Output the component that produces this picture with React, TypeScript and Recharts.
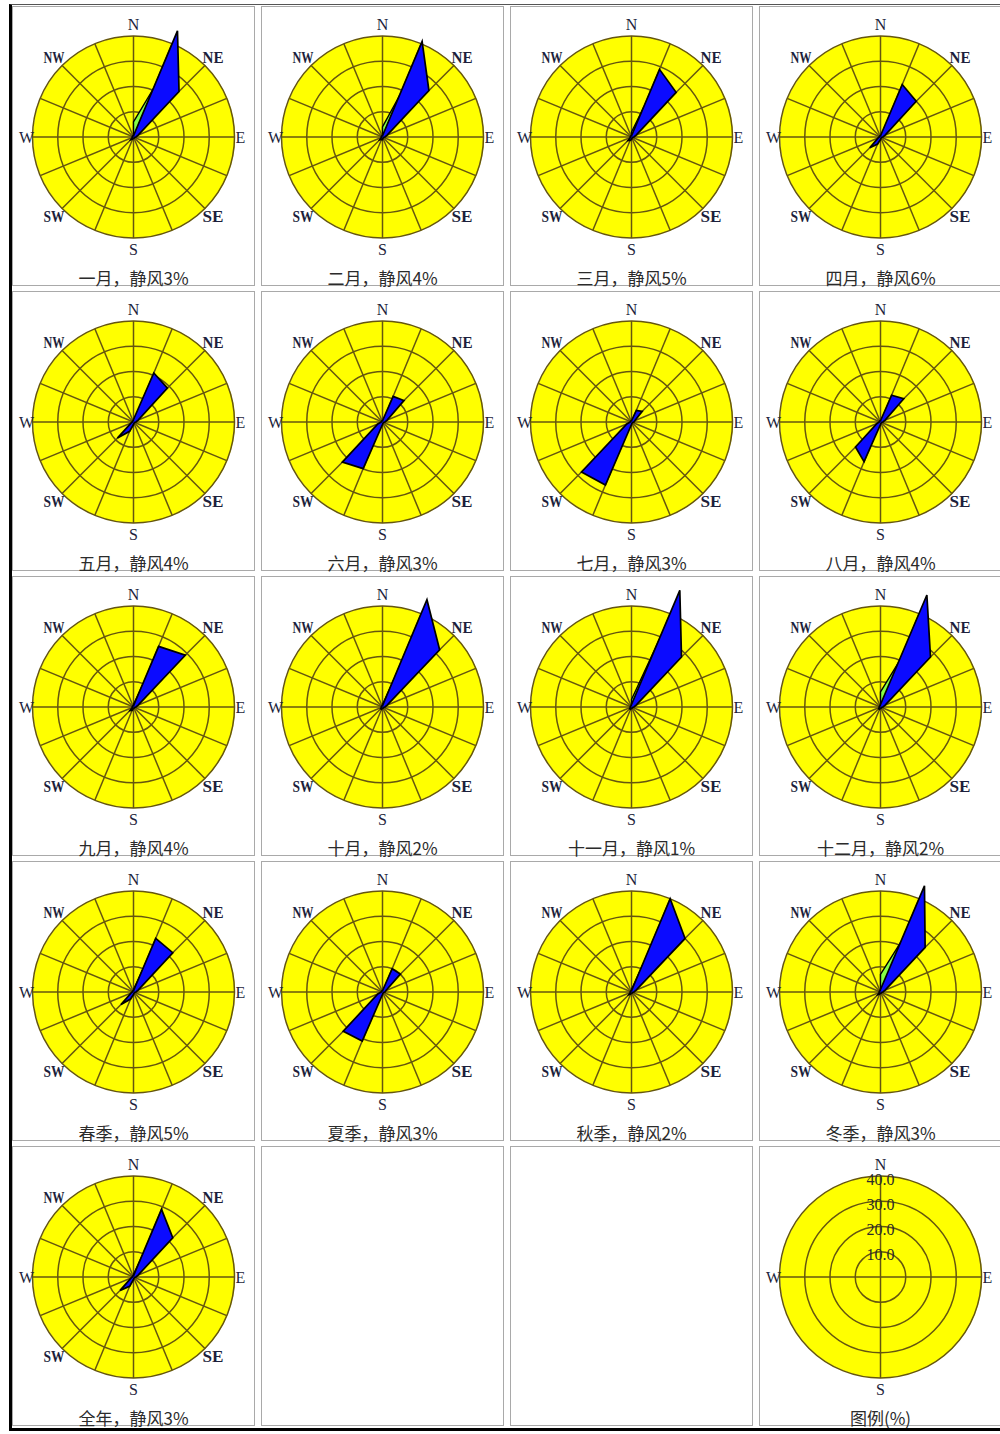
import { PolarAngleAxis, PolarGrid, PolarRadiusAxis, Radar, RadarChart } from 'recharts';

// 16 compass points, clockwise from north
const DIRECTIONS = ['N', 'NNE', 'NE', 'ENE', 'E', 'ESE', 'SE', 'SSE', 'S', 'SSW', 'SW', 'WSW', 'W', 'WNW', 'NW', 'NNW'];
const MAIN_POINTS = ['N', 'NE', 'E', 'SE', 'S', 'SW', 'W', 'NW'];
const LEGEND_DIRS = ['N', 'E', 'S', 'W'];
const RING_TICKS = [0, 10, 20, 30, 40];

const PERIODS = [
  '一月', '二月', '三月', '四月', '五月', '六月', '七月', '八月',
  '九月', '十月', '十一月', '十二月', '春季', '夏季', '秋季', '冬季', '全年',
];
const CALM = [3, 4, 5, 6, 4, 3, 3, 4, 4, 2, 1, 2, 5, 3, 2, 3, 3];

// wind direction frequency (%), main rose
const FREQ_JAN = [0.5, 45.5, 25.5, 2, 1, 0.5, 0.5, 0.5, 0.5, 1, 1.5, 0.5, 0.5, 0.5, 0.5, 0.5];
const FREQ_FEB = [0.5, 41, 26, 2, 1, 0.5, 0.5, 0.5, 1, 1, 1.5, 0.5, 0.5, 0.5, 0.5, 0.5];
const FREQ_MAR = [0.5, 29, 25, 2, 1, 0.5, 0.5, 0.5, 1, 1.5, 2, 0.5, 0.5, 0.5, 0.5, 0.5];
const FREQ_APR = [0.5, 22.5, 20, 2, 1, 0.5, 0.5, 0.5, 1, 3, 6, 1, 0.5, 0.5, 0.5, 0.5];
const FREQ_MAY = [1, 21, 19, 2, 1, 0.5, 0.5, 0.5, 1, 4, 9, 1, 0.5, 0.5, 0.5, 0.5];
const FREQ_JUN = [0.5, 11, 12, 2, 1, 0.5, 0.5, 0.5, 1, 20, 22.5, 2, 0.5, 0.5, 0.5, 0.5];
const FREQ_JUL = [0.5, 5, 6, 1.5, 1, 0.5, 0.5, 0.5, 1, 27, 28, 2, 0.5, 0.5, 0.5, 0.5];
const FREQ_AUG = [0.5, 11.5, 13, 2, 1, 0.5, 0.5, 0.5, 1, 17, 14, 1.5, 0.5, 0.5, 0.5, 0.5];
const FREQ_SEP = [0.5, 26, 29, 2, 1, 0.5, 0.5, 0.5, 0.5, 1.5, 2, 0.5, 0.5, 0.5, 0.5, 0.5];
const FREQ_OCT = [0.5, 46, 32, 2, 1, 0.5, 0.5, 0.5, 0.5, 1, 1, 0.5, 0.5, 0.5, 0.5, 0.5];
const FREQ_NOV = [1, 50, 28, 2, 1, 0.5, 0.5, 0.5, 0.5, 1, 1, 0.5, 0.5, 0.5, 0.5, 0.5];
const FREQ_DEC = [1, 48, 28, 2, 1, 0.5, 0.5, 0.5, 0.5, 1, 1, 0.5, 0.5, 0.5, 0.5, 0.5];
const FREQ_SPRING = [0.5, 23, 22, 2, 1, 0.5, 0.5, 0.5, 1, 3, 7, 1, 0.5, 0.5, 0.5, 0.5];
const FREQ_SUMMER = [0.5, 10, 10, 1.5, 1, 0.5, 0.5, 0.5, 1, 21, 22, 2, 0.5, 0.5, 0.5, 0.5];
const FREQ_AUTUMN = [0.5, 40, 30, 2, 1, 0.5, 0.5, 0.5, 0.5, 1, 1.5, 0.5, 0.5, 0.5, 0.5, 0.5];
const FREQ_WINTER = [1, 45.5, 25, 2, 1, 0.5, 0.5, 0.5, 0.5, 1, 1.5, 0.5, 0.5, 0.5, 0.5, 0.5];
const FREQ_YEAR = [0.5, 29, 22, 2, 1, 0.5, 0.5, 0.5, 1, 4, 7.5, 1, 0.5, 0.5, 0.5, 0.5];

// second layer, drawn under the main rose (only shows on the north side)
const SUB_JAN = [6, 21, 0, 0, 0, 0, 0, 0, 0, 0, 0, 0, 0, 0, 0, 0];
const SUB_FEB = [4, 18, 0, 0, 0, 0, 0, 0, 0, 0, 0, 0, 0, 0, 0, 0];
const SUB_MAR = [2, 13, 0, 0, 0, 0, 0, 0, 0, 0, 0, 0, 0, 0, 0, 0];
const SUB_APR = [0, 0, 0, 0, 0, 0, 0, 0, 0, 0, 0, 0, 0, 0, 0, 0];
const SUB_MAY = [0, 0, 0, 0, 0, 0, 0, 0, 0, 0, 0, 0, 0, 0, 0, 0];
const SUB_JUN = [0, 0, 0, 0, 0, 0, 0, 0, 0, 0, 0, 0, 0, 0, 0, 0];
const SUB_JUL = [0, 0, 0, 0, 0, 0, 0, 0, 0, 0, 0, 0, 0, 0, 0, 0];
const SUB_AUG = [0, 0, 0, 0, 0, 0, 0, 0, 0, 0, 0, 0, 0, 0, 0, 0];
const SUB_SEP = [1, 10, 0, 0, 0, 0, 0, 0, 0, 0, 0, 0, 0, 0, 0, 0];
const SUB_OCT = [1, 12, 0, 0, 0, 0, 0, 0, 0, 0, 0, 0, 0, 0, 0, 0];
const SUB_NOV = [3, 30, 0, 0, 0, 0, 0, 0, 0, 0, 0, 0, 0, 0, 0, 0];
const SUB_DEC = [6, 20, 0, 0, 0, 0, 0, 0, 0, 0, 0, 0, 0, 0, 0, 0];
const SUB_SPRING = [1, 10, 0, 0, 0, 0, 0, 0, 0, 0, 0, 0, 0, 0, 0, 0];
const SUB_SUMMER = [0, 0, 0, 0, 0, 0, 0, 0, 0, 0, 0, 0, 0, 0, 0, 0];
const SUB_AUTUMN = [1, 12, 0, 0, 0, 0, 0, 0, 0, 0, 0, 0, 0, 0, 0, 0];
const SUB_WINTER = [7, 22, 0, 0, 0, 0, 0, 0, 0, 0, 0, 0, 0, 0, 0, 0];
const SUB_YEAR = [1, 10, 0, 0, 0, 0, 0, 0, 0, 0, 0, 0, 0, 0, 0, 0];

const FREQ = [
  FREQ_JAN, FREQ_FEB, FREQ_MAR, FREQ_APR, FREQ_MAY, FREQ_JUN, FREQ_JUL, FREQ_AUG,
  FREQ_SEP, FREQ_OCT, FREQ_NOV, FREQ_DEC, FREQ_SPRING, FREQ_SUMMER, FREQ_AUTUMN, FREQ_WINTER, FREQ_YEAR,
];
const SUB = [
  SUB_JAN, SUB_FEB, SUB_MAR, SUB_APR, SUB_MAY, SUB_JUN, SUB_JUL, SUB_AUG,
  SUB_SEP, SUB_OCT, SUB_NOV, SUB_DEC, SUB_SPRING, SUB_SUMMER, SUB_AUTUMN, SUB_WINTER, SUB_YEAR,
];

const CELL_W = 243;
const CELL_H = 280;
const CX = 120.5;
const CY = 130;
const R = 101;

const YELLOW = '#ffff00';
const GRID = '#65560f';
const LABEL = '#1d1f3c';
const SERIF = '"Liberation Serif", "DejaVu Serif", serif';
const CJK = '"Noto Sans CJK SC", "Noto Sans", sans-serif';

const cellStyle: React.CSSProperties = {
  position: 'relative',
  width: CELL_W,
  height: CELL_H,
  boxSizing: 'border-box',
  border: '1px solid #a9a9a9',
  background: '#fff',
};

const titleStyle: React.CSSProperties = {
  position: 'absolute',
  left: 0,
  right: 0,
  top: 259,
  textAlign: 'center',
  fontFamily: CJK,
  fontSize: 17,
  lineHeight: '24px',
  color: '#2b2b2b',
};

// compass label, pushed out along the spoke from the chart centre
function DirTick(props: any) {
  const { x, y, payload } = props;
  const name = payload.value as string;
  if (!MAIN_POINTS.includes(name)) return <g />;
  const dx = x - CX;
  const dy = y - CY;
  const d = Math.hypot(dx, dy) || 1;
  const r = name === 'E' || name === 'W' ? 107 : 112.5;
  const tx = CX + (dx / d) * r;
  const ty = CY + (dy / d) * r;
  const wide = name.length > 1;
  return (
    <text
      x={tx}
      y={ty}
      textAnchor="middle"
      dominantBaseline="central"
      fontFamily={SERIF}
      fontSize={16}
      fontWeight={wide ? 700 : 400}
      fill={LABEL}
      textLength={wide ? 21 : undefined}
      lengthAdjust="spacingAndGlyphs"
    >
      {name}
    </text>
  );
}

function RingTick(props: any) {
  const { x, y, payload } = props;
  if (!payload.value) return <g />;
  return (
    <text
      x={x}
      y={y + 3}
      textAnchor="middle"
      dominantBaseline="central"
      fontFamily={SERIF}
      fontSize={16}
      fill="#2a2a2a"
    >
      {Number(payload.value).toFixed(1)}
    </text>
  );
}

function Disc() {
  return (
    <div
      style={{
        position: 'absolute',
        left: CX - R,
        top: CY - R,
        width: R * 2,
        height: R * 2,
        borderRadius: '50%',
        background: YELLOW,
      }}
    />
  );
}

function RoseCell({ index }: { index: number }) {
  const data = DIRECTIONS.map((dir, i) => ({ dir, freq: FREQ[index][i], sub: SUB[index][i] }));
  return (
    <div style={cellStyle}>
      <Disc />
      <RadarChart width={CELL_W - 2} height={262} cx={CX} cy={CY} outerRadius={R} data={data} startAngle={90} endAngle={-270}>
        <PolarGrid gridType="circle" stroke={GRID} strokeWidth={1.5} />
        <PolarAngleAxis dataKey="dir" tick={DirTick} tickLine={false} axisLine={false} />
        <PolarRadiusAxis type="number" domain={[0, 40]} ticks={RING_TICKS} allowDataOverflow tick={false} axisLine={false} />
        <Radar dataKey="sub" fill="#86ff46" fillOpacity={1} stroke="#000" strokeWidth={1.4} isAnimationActive={false} />
        <Radar dataKey="freq" fill="#0b0bff" fillOpacity={1} stroke="#000" strokeWidth={1.7} isAnimationActive={false} />
      </RadarChart>
      <div style={titleStyle}>{`${PERIODS[index]}，静风${CALM[index]}%`}</div>
    </div>
  );
}

function LegendCell() {
  const data = LEGEND_DIRS.map((dir) => ({ dir, v: 0 }));
  return (
    <div style={cellStyle}>
      <Disc />
      <RadarChart width={CELL_W - 2} height={262} cx={CX} cy={CY} outerRadius={R} data={data} startAngle={90} endAngle={-270}>
        <PolarGrid gridType="circle" stroke={GRID} strokeWidth={1.5} />
        <PolarAngleAxis dataKey="dir" tick={DirTick} tickLine={false} axisLine={false} />
        <PolarRadiusAxis type="number" angle={90} domain={[0, 40]} ticks={RING_TICKS} tick={RingTick} tickLine={false} axisLine={false} />
        <Radar dataKey="v" fill="none" stroke="none" isAnimationActive={false} />
      </RadarChart>
      <div style={titleStyle}>图例(%)</div>
    </div>
  );
}

export default function App() {
  return (
    <div style={{ position: 'absolute', left: 0, top: 0, width: 1000, height: 1434, overflow: 'hidden', background: '#fff' }}>
      <div
        style={{
          position: 'absolute',
          left: 9,
          top: 4,
          borderLeft: '3px solid #000',
          borderTop: '1px solid #555',
          borderBottom: '3px solid #000',
          paddingTop: 1,
          paddingBottom: 2,
          display: 'grid',
          gridTemplateColumns: `repeat(4, ${CELL_W}px)`,
          gridAutoRows: `${CELL_H}px`,
          columnGap: 6,
          rowGap: 5,
        }}
      >
        {PERIODS.map((_, i) => (
          <RoseCell key={i} index={i} />
        ))}
        <div style={cellStyle} />
        <div style={cellStyle} />
        <LegendCell />
      </div>
    </div>
  );
}
